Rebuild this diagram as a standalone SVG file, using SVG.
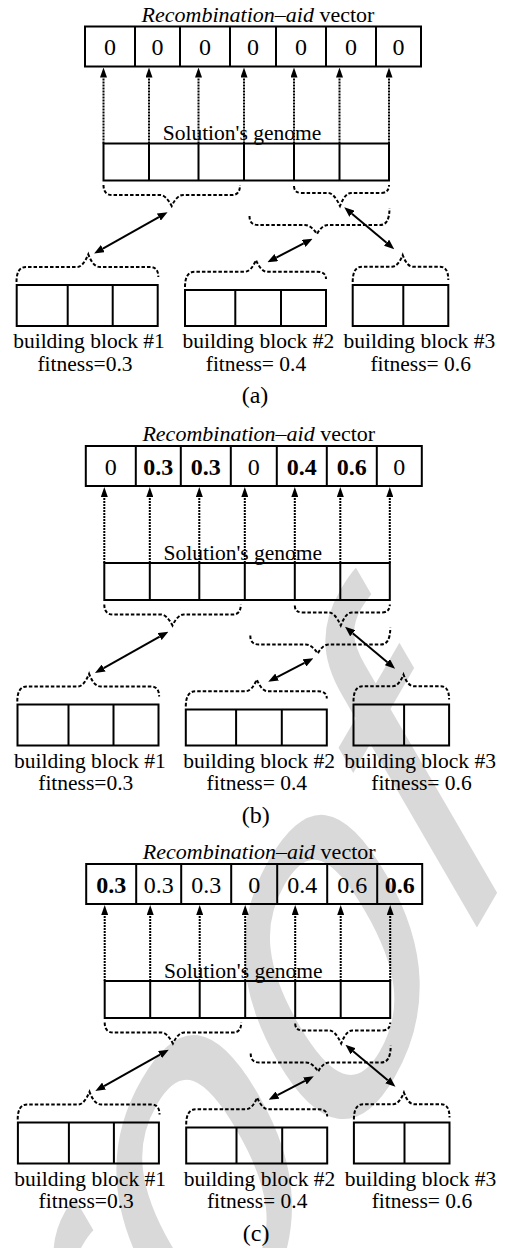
<svg xmlns="http://www.w3.org/2000/svg" width="505" height="1248" viewBox="0 0 505 1248">
<style>
 text { font-family: "Liberation Serif", "Times New Roman", serif; fill:#000; }
 .wm { font-family: "Liberation Sans", Arial, sans-serif; font-size:560px; fill:#d9d9d9; }
 .box { fill:none; stroke:#000; stroke-width:2; }
 .div { stroke:#000; stroke-width:2; fill:none; }
 .dot { stroke:#000; stroke-width:2; stroke-dasharray:2 1; fill:none; marker-end:url(#head); }
 .brace { fill:none; stroke:#000; stroke-width:2; stroke-dasharray:3.5 2; }
 .arr { stroke:#000; stroke-width:2; fill:none; marker-start:url(#head2); marker-end:url(#head2); }
 .title { font-size:22px; text-anchor:middle; }
 .lbl { font-size:21.5px; text-anchor:middle; }
 .num { font-size:24px; text-anchor:middle; }
 .b { font-weight:bold; }
 .cap { font-size:24px; text-anchor:middle; }
</style>
<defs>
 <marker id="head" markerWidth="10" markerHeight="7" refX="0" refY="3.5" orient="auto" markerUnits="userSpaceOnUse"><path d="M0,0 L10,3.5 L0,7 z" fill="#000"/></marker>
 <marker id="head2" markerWidth="10" markerHeight="8" refX="0" refY="4" orient="auto-start-reverse" markerUnits="userSpaceOnUse"><path d="M0,0 L10,4 L0,8 z" fill="#000"/></marker>
</defs>

<g id="watermark" transform="translate(-28.5,1799) scale(0.58,1) rotate(-45)">
 <text class="wm" x="0" y="0">Proof</text>
</g>

<!-- ================= PANEL A ================= -->
<g id="panel-a">
 <g id="a-connectors">
  <path class="dot" d="M103.5,143.5V77.5"/>
  <path class="dot" d="M149,143.5V77.5"/>
  <path class="dot" d="M198.5,143.5V77.5"/>
  <path class="dot" d="M244,143.5V77.5"/>
  <path class="dot" d="M294,143.5V77.5"/>
  <path class="dot" d="M339.5,143.5V77.5"/>
  <path class="dot" d="M389,143.5V77.5"/>
  <path class="brace" d="M103.5,185 Q103.5,195 112,195 L160,195 Q166,195 171.7,206 Q177,195 183,195 L232,195 Q240,195 240,185"/>
  <path class="brace" d="M294,186 Q294,193 302,193 L328,193 Q334,193 340,206 Q345,193 351,193 L381,193 Q389,193 389,185"/>
  <path class="brace" d="M249.5,216 Q249.5,225 258,225 L305,225 Q311,225 317,234 Q322,225 328,225 L380,225 Q389.5,225 389.5,208"/>
  <path class="brace" d="M16.5,282 Q16.5,267 26,267 L77,267 Q83,267 88.3,254.3 Q93,267 100,267 L150,267 Q158.3,267 158.3,277"/>
  <path class="brace" d="M185,287 Q185,271.7 195,271.7 L245,271.7 Q251,271.7 256,260 Q261,271.7 267,271.7 L317,271.7 Q326,271.7 326,279"/>
  <path class="brace" d="M352.7,282 Q352.7,266.7 362,266.7 L392,266.7 Q398,266.7 402.7,255 Q407,266.7 413,266.7 L440,266.7 Q448.3,266.7 448.3,280"/>
  <line class="arr" x1="158.85" y1="217.11" x2="102.85" y2="248.59"/>
  <line class="arr" x1="303.7" y1="243.43" x2="276.3" y2="257.57"/>
  <line class="arr" x1="351.91" y1="213.77" x2="386.59" y2="242.73"/>
 </g>
 <g id="a-vector">
  <text class="title" x="258" y="21.5"><tspan font-style="italic">Recombination–aid</tspan> vector</text>
  <rect class="box" x="85" y="26.5" width="336" height="40"/>
  <path class="div" d="M135,26.5V66.5M180,26.5V66.5M230,26.5V66.5M276,26.5V66.5M326,26.5V66.5M376,26.5V66.5"/>
  <text class="num" x="110" y="55">0</text>
  <text class="num" x="157.5" y="55">0</text>
  <text class="num" x="205" y="55">0</text>
  <text class="num" x="253" y="55">0</text>
  <text class="num" x="301" y="55">0</text>
  <text class="num" x="351" y="55">0</text>
  <text class="num" x="398.5" y="55">0</text>
 </g>
 <g id="a-genome">
  <text class="lbl" x="242" y="140">Solution's genome</text>
  <rect class="box" x="103.5" y="143.5" width="285.5" height="37"/>
  <path class="div" d="M149,143.5V180.5M198.5,143.5V180.5M244,143.5V180.5M294,143.5V180.5M339.5,143.5V180.5"/>
 </g>
 <g id="a-block1">
  <rect class="box" x="16.7" y="285" width="141" height="41"/>
  <path class="div" d="M67.7,285V326M112.7,285V326"/>
  <text class="lbl" x="89" y="348">building block #1</text>
  <text class="lbl" x="85" y="370.5">fitness=0.3</text>
 </g>
 <g id="a-block2">
  <rect class="box" x="185" y="290" width="141" height="36"/>
  <path class="div" d="M235.3,290V326M281,290V326"/>
  <text class="lbl" x="258.3" y="348">building block #2</text>
  <text class="lbl" x="256" y="370.5">fitness= 0.4</text>
 </g>
 <g id="a-block3">
  <rect class="box" x="352.7" y="285" width="95.6" height="41"/>
  <path class="div" d="M403.3,285V326"/>
  <text class="lbl" x="419.3" y="348">building block #3</text>
  <text class="lbl" x="420.7" y="370.5">fitness= 0.6</text>
 </g>
 <text class="cap" x="255" y="403">(a)</text>
</g>

<!-- ================= PANEL B ================= -->
<g id="panel-b" transform="translate(0.8,419.5)">
 <g id="b-connectors">
  <path class="dot" d="M103.5,143.5V77.5"/>
  <path class="dot" d="M149,143.5V77.5"/>
  <path class="dot" d="M198.5,143.5V77.5"/>
  <path class="dot" d="M244,143.5V77.5"/>
  <path class="dot" d="M294,143.5V77.5"/>
  <path class="dot" d="M339.5,143.5V77.5"/>
  <path class="dot" d="M389,143.5V77.5"/>
  <path class="brace" d="M103.5,185 Q103.5,195 112,195 L160,195 Q166,195 171.7,206 Q177,195 183,195 L232,195 Q240,195 240,185"/>
  <path class="brace" d="M294,186 Q294,193 302,193 L328,193 Q334,193 340,206 Q345,193 351,193 L381,193 Q389,193 389,185"/>
  <path class="brace" d="M249.5,216 Q249.5,225 258,225 L305,225 Q311,225 317,234 Q322,225 328,225 L380,225 Q389.5,225 389.5,208"/>
  <path class="brace" d="M16.5,282 Q16.5,267 26,267 L77,267 Q83,267 88.3,254.3 Q93,267 100,267 L150,267 Q158.3,267 158.3,277"/>
  <path class="brace" d="M185,287 Q185,271.7 195,271.7 L245,271.7 Q251,271.7 256,260 Q261,271.7 267,271.7 L317,271.7 Q326,271.7 326,279"/>
  <path class="brace" d="M352.7,282 Q352.7,266.7 362,266.7 L392,266.7 Q398,266.7 402.7,255 Q407,266.7 413,266.7 L440,266.7 Q448.3,266.7 448.3,280"/>
  <line class="arr" x1="158.85" y1="217.11" x2="102.85" y2="248.59"/>
  <line class="arr" x1="303.7" y1="243.43" x2="276.3" y2="257.57"/>
  <line class="arr" x1="351.91" y1="213.77" x2="386.59" y2="242.73"/>
 </g>
 <g id="b-vector">
  <text class="title" x="258" y="21.5"><tspan font-style="italic">Recombination–aid</tspan> vector</text>
  <rect class="box" x="85" y="26.5" width="336" height="40"/>
  <path class="div" d="M135,26.5V66.5M180,26.5V66.5M230,26.5V66.5M276,26.5V66.5M326,26.5V66.5M376,26.5V66.5"/>
  <text class="num" x="110" y="55">0</text>
  <text class="num b" x="157.5" y="55">0.3</text>
  <text class="num b" x="205" y="55">0.3</text>
  <text class="num" x="253" y="55">0</text>
  <text class="num b" x="301" y="55">0.4</text>
  <text class="num b" x="351" y="55">0.6</text>
  <text class="num" x="398.5" y="55">0</text>
 </g>
 <g id="b-genome">
  <text class="lbl" x="242" y="140">Solution's genome</text>
  <rect class="box" x="103.5" y="143.5" width="285.5" height="37"/>
  <path class="div" d="M149,143.5V180.5M198.5,143.5V180.5M244,143.5V180.5M294,143.5V180.5M339.5,143.5V180.5"/>
 </g>
 <g id="b-block1">
  <rect class="box" x="16.7" y="285" width="141" height="41"/>
  <path class="div" d="M67.7,285V326M112.7,285V326"/>
  <text class="lbl" x="89" y="348">building block #1</text>
  <text class="lbl" x="85" y="370.5">fitness=0.3</text>
 </g>
 <g id="b-block2">
  <rect class="box" x="185" y="290" width="141" height="36"/>
  <path class="div" d="M235.3,290V326M281,290V326"/>
  <text class="lbl" x="258.3" y="348">building block #2</text>
  <text class="lbl" x="256" y="370.5">fitness= 0.4</text>
 </g>
 <g id="b-block3">
  <rect class="box" x="352.7" y="285" width="95.6" height="41"/>
  <path class="div" d="M403.3,285V326"/>
  <text class="lbl" x="419.3" y="348">building block #3</text>
  <text class="lbl" x="420.7" y="370.5">fitness= 0.6</text>
 </g>
 <text class="cap" x="255" y="403">(b)</text>
</g>

<!-- ================= PANEL C ================= -->
<g id="panel-c" transform="translate(1.2,837.5)">
 <g id="c-connectors">
  <path class="dot" d="M103.5,143.5V77.5"/>
  <path class="dot" d="M149,143.5V77.5"/>
  <path class="dot" d="M198.5,143.5V77.5"/>
  <path class="dot" d="M244,143.5V77.5"/>
  <path class="dot" d="M294,143.5V77.5"/>
  <path class="dot" d="M339.5,143.5V77.5"/>
  <path class="dot" d="M389,143.5V77.5"/>
  <path class="brace" d="M103.5,185 Q103.5,195 112,195 L160,195 Q166,195 171.7,206 Q177,195 183,195 L232,195 Q240,195 240,185"/>
  <path class="brace" d="M294,186 Q294,193 302,193 L328,193 Q334,193 340,206 Q345,193 351,193 L381,193 Q389,193 389,185"/>
  <path class="brace" d="M249.5,216 Q249.5,225 258,225 L305,225 Q311,225 317,234 Q322,225 328,225 L380,225 Q389.5,225 389.5,208"/>
  <path class="brace" d="M16.5,282 Q16.5,267 26,267 L77,267 Q83,267 88.3,254.3 Q93,267 100,267 L150,267 Q158.3,267 158.3,277"/>
  <path class="brace" d="M185,287 Q185,271.7 195,271.7 L245,271.7 Q251,271.7 256,260 Q261,271.7 267,271.7 L317,271.7 Q326,271.7 326,279"/>
  <path class="brace" d="M352.7,282 Q352.7,266.7 362,266.7 L392,266.7 Q398,266.7 402.7,255 Q407,266.7 413,266.7 L440,266.7 Q448.3,266.7 448.3,280"/>
  <line class="arr" x1="158.85" y1="217.11" x2="102.85" y2="248.59"/>
  <line class="arr" x1="303.7" y1="243.43" x2="276.3" y2="257.57"/>
  <line class="arr" x1="351.91" y1="213.77" x2="386.59" y2="242.73"/>
 </g>
 <g id="c-vector">
  <text class="title" x="258" y="21.5"><tspan font-style="italic">Recombination–aid</tspan> vector</text>
  <rect class="box" x="85" y="26.5" width="336" height="40"/>
  <path class="div" d="M135,26.5V66.5M180,26.5V66.5M230,26.5V66.5M276,26.5V66.5M326,26.5V66.5M376,26.5V66.5"/>
  <text class="num b" x="110" y="55">0.3</text>
  <text class="num" x="157.5" y="55">0.3</text>
  <text class="num" x="205" y="55">0.3</text>
  <text class="num" x="253" y="55">0</text>
  <text class="num" x="301" y="55">0.4</text>
  <text class="num" x="351" y="55">0.6</text>
  <text class="num b" x="398.5" y="55">0.6</text>
 </g>
 <g id="c-genome">
  <text class="lbl" x="242" y="140">Solution's genome</text>
  <rect class="box" x="103.5" y="143.5" width="285.5" height="37"/>
  <path class="div" d="M149,143.5V180.5M198.5,143.5V180.5M244,143.5V180.5M294,143.5V180.5M339.5,143.5V180.5"/>
 </g>
 <g id="c-block1">
  <rect class="box" x="16.7" y="285" width="141" height="41"/>
  <path class="div" d="M67.7,285V326M112.7,285V326"/>
  <text class="lbl" x="89" y="348">building block #1</text>
  <text class="lbl" x="85" y="370.5">fitness=0.3</text>
 </g>
 <g id="c-block2">
  <rect class="box" x="185" y="290" width="141" height="36"/>
  <path class="div" d="M235.3,290V326M281,290V326"/>
  <text class="lbl" x="258.3" y="348">building block #2</text>
  <text class="lbl" x="256" y="370.5">fitness= 0.4</text>
 </g>
 <g id="c-block3">
  <rect class="box" x="352.7" y="285" width="95.6" height="41"/>
  <path class="div" d="M403.3,285V326"/>
  <text class="lbl" x="419.3" y="348">building block #3</text>
  <text class="lbl" x="420.7" y="370.5">fitness= 0.6</text>
 </g>
 <text class="cap" x="255" y="403">(c)</text>
</g>
</svg>
